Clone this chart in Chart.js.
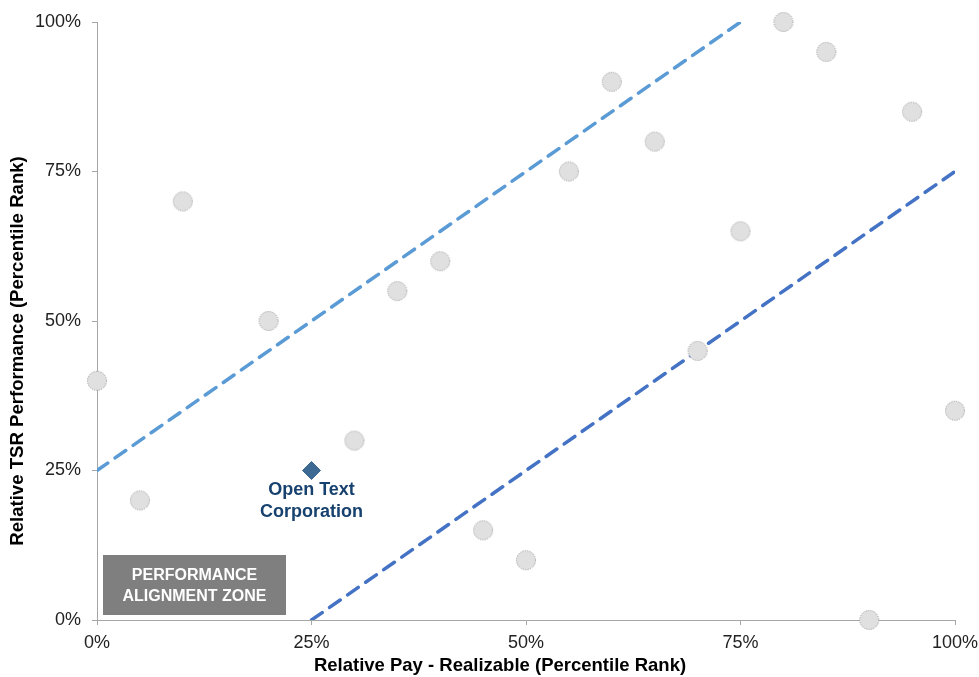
<!DOCTYPE html>
<html>
<head>
<meta charset="utf-8">
<script src="https://cdn.jsdelivr.net/npm/chart.js@4.4.1/dist/chart.umd.min.js"></script>
<style>
  html, body { margin: 0; padding: 0; background: #fff; }
  #wrap { width: 979px; height: 677px; }
</style>
</head>
<body>
<div id="wrap"><canvas id="myChart" width="979" height="677"></canvas></div>
<script>
// peers: relative pay percentile (x) vs relative TSR percentile (y)
const peerPay = [0, 5, 10, 20, 30, 35, 40, 45, 50, 55, 60, 65, 70, 75, 80, 85, 90, 95, 100];
const peerTsr = [40, 20, 70, 50, 30, 55, 60, 15, 10, 75, 90, 80, 45, 65, 100, 95, 0, 85, 35];

// company
const companyName = ['Open Text', 'Corporation'];
const companyPay = 25;
const companyTsr = 25;

// alignment zone boundaries
const upperLineX = [0, 75];
const upperLineY = [25, 100];
const lowerLineX = [25, 100];
const lowerLineY = [0, 75];

const tickValues = [0, 25, 50, 75, 100];
const zoneText = ['PERFORMANCE', 'ALIGNMENT ZONE'];
const yTitle = 'Relative TSR Performance (Percentile Rank)';
const xTitle = 'Relative Pay - Realizable (Percentile Rank)';

const FONT = "'Liberation Sans', Arial, sans-serif";

const toPoints = (xs, ys) => xs.map((x, i) => ({ x: x, y: ys[i] }));

// gray dot with a dotted outline, used as point style
function makeDot() {
    const c = document.createElement('canvas');
    c.width = 22;
    c.height = 22;
    const g = c.getContext('2d');
    g.beginPath();
    g.arc(11, 11, 9.5, 0, Math.PI * 2);
    g.fillStyle = '#e0e0e0';
    g.fill();
    g.setLineDash([1.2, 1.2]);
    g.lineWidth = 1;
    g.strokeStyle = '#999999';
    g.stroke();
    return c;
}

// draws the gray zone box, company label and both axis titles
const annotations = {
    id: 'annotations',
    afterDraw(chart) {
        const ctx = chart.ctx;
        const xs = chart.scales.x;
        const ys = chart.scales.y;
        const area = chart.chartArea;
        ctx.save();

        // gray box bottom-left
        const left = area.left + 6;
        const bottom = area.bottom - 5;
        const w = 183, h = 60;
        ctx.fillStyle = '#7f7f7f';
        ctx.fillRect(left, bottom - h, w, h);
        ctx.fillStyle = '#ffffff';
        ctx.font = 'bold 16px ' + FONT;
        ctx.textAlign = 'center';
        ctx.textBaseline = 'middle';
        ctx.fillText(zoneText[0], left + w / 2, bottom - h + 21);
        ctx.fillText(zoneText[1], left + w / 2, bottom - h + 42);

        // label under the diamond
        const px = xs.getPixelForValue(companyPay);
        const py = ys.getPixelForValue(companyTsr);
        ctx.fillStyle = '#17416e';
        ctx.font = 'bold 18px ' + FONT;
        ctx.fillText(companyName[0], px, py + 20);
        ctx.fillText(companyName[1], px, py + 42);

        // x axis title, slightly left of centre like the original
        ctx.fillStyle = '#000';
        ctx.font = 'bold 18.5px ' + FONT;
        ctx.fillText(xTitle, (area.left + area.right) / 2 - 26, 666);

        // y axis title, a bit below the middle
        ctx.translate(18, (area.top + area.bottom) / 2 + 30);
        ctx.rotate(-Math.PI / 2);
        ctx.font = 'bold 18.6px ' + FONT;
        ctx.fillText(yTitle, 0, 0);
        ctx.restore();
    }
};

const axisCommon = {
    type: 'linear',
    min: 0,
    max: 100,
    afterBuildTicks: axis => { axis.ticks = tickValues.map(v => ({ value: v })); },
    grid: {
        display: true,
        drawOnChartArea: false,
        drawTicks: true,
        tickLength: 5,
        color: '#a6a6a6'
    },
    border: { display: true, color: '#a6a6a6', width: 1 }
};

const ctx = document.getElementById('myChart');

new Chart(ctx, {
    type: 'scatter',
    data: {
        datasets: [
            {
                label: 'Open Text Corporation',
                data: [{ x: companyPay, y: companyTsr }],
                pointStyle: 'rectRot',
                pointRadius: 9,
                backgroundColor: '#3d6a93',
                borderColor: '#3d6a93',
                clip: false,
                order: 0
            },
            {
                label: 'Peers',
                data: toPoints(peerPay, peerTsr),
                pointStyle: makeDot(),
                pointRadius: 10,
                clip: false,
                order: 1
            },
            {
                type: 'line',
                label: 'Upper',
                data: toPoints(upperLineX, upperLineY),
                borderColor: '#5b9bd5',
                borderWidth: 3.5,
                borderDash: [13, 9],
                borderCapStyle: 'round',
                pointRadius: 0,
                fill: false,
                order: 2
            },
            {
                type: 'line',
                label: 'Lower',
                data: toPoints(lowerLineX, lowerLineY),
                borderColor: '#4472c4',
                borderWidth: 3.5,
                borderDash: [13, 9],
                borderCapStyle: 'round',
                pointRadius: 0,
                fill: false,
                order: 2
            }
        ]
    },
    options: {
        responsive: false,
        animation: false,
        layout: { padding: { top: 22, right: 24, left: 0, bottom: 0 } },
        plugins: {
            legend: { display: false },
            tooltip: { enabled: false }
        },
        scales: {
            x: {
                ...axisCommon,
                afterFit: axis => {
                    axis.height = 57;
                    axis.paddingLeft = 0;
                    axis.paddingRight = 0;
                },
                ticks: {
                    color: '#222',
                    font: { family: FONT, size: 18 },
                    padding: 7,
                    maxRotation: 0,
                    callback: v => v + '%'
                }
            },
            y: {
                ...axisCommon,
                afterFit: axis => {
                    axis.width = 97;
                    axis.paddingTop = 0;
                    axis.paddingBottom = 0;
                },
                ticks: {
                    color: '#222',
                    font: { family: FONT, size: 18 },
                    padding: 11,
                    callback: v => v + '%'
                }
            }
        }
    },
    plugins: [annotations]
});
</script>
</body>
</html>
